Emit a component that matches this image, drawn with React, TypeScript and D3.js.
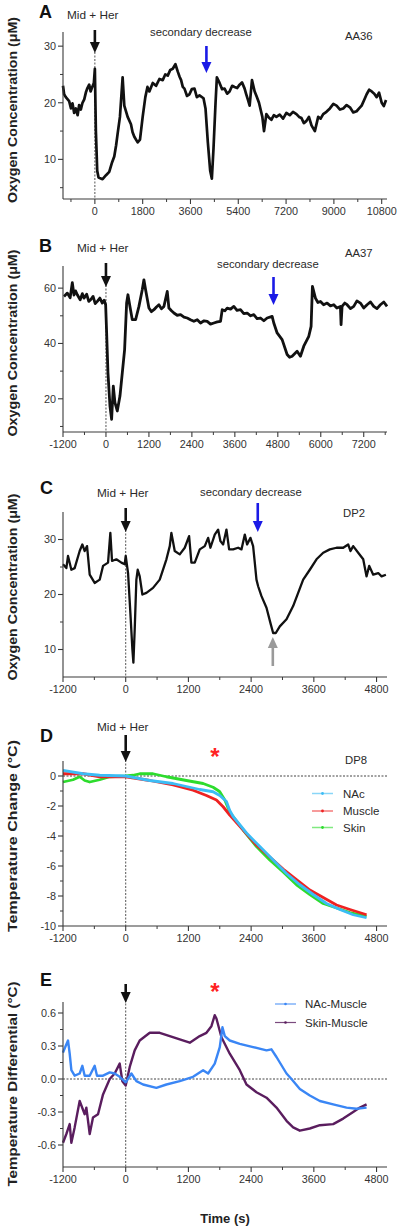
import React from "react";
import * as d3 from "d3";

// ---------- DATA ----------
// Panel A (AA36): [time s, O2 µM]
const aaA: [number, number][] = [
  [-1200, 23.0], [-1158, 21.5], [-1095, 21.0], [-969, 20.3], [-900, 19.0], [-843, 19.9], [-780, 18.2], [-717, 19.0], [-650, 17.8], [-592, 19.6],
  [-530, 18.8], [-466, 20.0], [-400, 20.6], [-340, 21.8], [-280, 22.6], [-214, 23.2], [-160, 22.0], [-113, 22.6], [-38, 23.5], [0, 26.0],
  [38, 15], [88, 8], [138, 6.8], [290, 6.5], [420, 7.2], [541, 7.8], [650, 9.5], [730, 10.5], [800, 12.5], [856, 14.5], [944, 17.5],
  [1045, 24.5], [1108, 19.5], [1234, 17.5], [1359, 16.2], [1420, 14.8], [1485, 14.0], [1611, 13.0], [1699, 13.5], [1800, 17.5],
  [1900, 21.0], [1980, 22.8], [2052, 22.0], [2180, 23.5], [2303, 23.0], [2430, 24.2], [2555, 24.0], [2650, 25.0], [2744, 24.8],
  [2840, 25.8], [2933, 26.0], [3033, 26.8], [3122, 25.5], [3190, 24.6], [3247, 24.0], [3310, 22.8], [3373, 22.5], [3470, 21.2],
  [3562, 21.5], [3650, 22.4], [3751, 22.5], [3840, 21.0], [3940, 21.3], [4091, 20.8], [4166, 19.0], [4254, 13], [4342, 8],
  [4405, 6.6], [4468, 12], [4544, 20], [4594, 24.5], [4695, 23.5], [4790, 22.4], [4884, 22.5], [4980, 21.6], [5072, 22.0],
  [5170, 23.0], [5261, 22.8], [5360, 22.6], [5450, 23.2], [5540, 23.6], [5639, 22.5], [5700, 21.5], [5765, 20.5], [5828, 19.5],
  [5916, 24.0], [6017, 22.0], [6100, 21.0], [6180, 20.0], [6306, 17.5], [6369, 15.0], [6457, 18.0], [6550, 17.4], [6646, 17.0],
  [6740, 17.8], [6835, 17.5], [6960, 17.9], [7087, 17.2], [7210, 18.2], [7338, 17.8], [7460, 18.4], [7590, 18.0], [7690, 17.5],
  [7779, 17.3], [7870, 16.4], [7968, 16.8], [8060, 17.5], [8157, 16.0], [8283, 15.0], [8409, 17.5], [8500, 17.2], [8598, 18.0],
  [8720, 18.4], [8850, 19.0], [8980, 19.8], [9100, 19.5], [9230, 18.8], [9352, 19.0], [9480, 19.6], [9604, 19.2], [9730, 18.3],
  [9856, 18.5], [9950, 19.0], [10045, 19.5], [10140, 20.5], [10234, 21.5], [10330, 22.3], [10423, 22.0], [10520, 21.6],
  [10611, 21.0], [10700, 21.8], [10800, 20.0], [10880, 19.4], [10963, 20.5],
];

// Panel B (AA37)
const aaB: [number, number][] = [
  [-1172, 57.0], [-1079, 58.2], [-1000, 56.5], [-940, 62.0], [-893, 57.5], [-850, 59.0], [-800, 57.6], [-720, 55.8], [-660, 58.0],
  [-614, 56.4], [-540, 57.8], [-480, 55.2], [-428, 55.8], [-360, 57.0], [-300, 54.4], [-242, 55.2], [-170, 56.4], [-102, 54.6],
  [-50, 55.6], [-9, 54.0], [19, 43.8], [56, 29.4], [112, 17.4], [158, 12.6], [205, 24.6], [251, 18.6], [316, 15.6], [391, 21],
  [456, 29.4], [521, 37.8], [577, 54.6], [614, 57.6], [670, 53.4], [735, 48.6], [828, 48.6], [921, 53.4], [1014, 59.4],
  [1060, 63], [1107, 59.4], [1200, 52.8], [1270, 51.5], [1340, 52.2], [1410, 53.2], [1479, 54], [1550, 52.5], [1619, 53.4],
  [1712, 58.8], [1758, 52.8], [1830, 51.8], [1898, 51], [1990, 50.2], [2084, 50.4], [2180, 49.5], [2270, 49.2], [2360, 48.6],
  [2456, 48], [2550, 48.6], [2642, 47.4], [2740, 48.2], [2828, 48], [2920, 47.0], [3014, 47.4], [3110, 47.8], [3200, 48],
  [3247, 52.2], [3320, 51.8], [3386, 52.8], [3480, 52.4], [3572, 53.4], [3660, 52.0], [3758, 52.2], [3850, 50.8], [3944, 51],
  [4040, 50.0], [4130, 50.4], [4220, 49.0], [4316, 49.2], [4410, 48.2], [4502, 49.2], [4642, 49.8], [4688, 47.4], [4781, 43.8],
  [4921, 41.4], [5060, 36], [5130, 35.0], [5200, 35.4], [5339, 37.2], [5432, 35.4], [5525, 39], [5665, 42.6], [5730, 46.2],
  [5767, 60.6], [5851, 56.4], [5920, 54.8], [5991, 55.2], [6080, 54.0], [6177, 54.6], [6270, 53.6], [6363, 54], [6450, 52.8],
  [6549, 53.4], [6567, 46.8], [6595, 53.4], [6670, 54.6], [6735, 54], [6830, 52.6], [6921, 53.4], [7010, 55.4], [7107, 54.6],
  [7200, 52.8], [7293, 54], [7390, 55.0], [7479, 53.4], [7570, 52.6], [7665, 54], [7760, 55.0], [7851, 53.4],
];

// Panel C (DP2)
const aaC: [number, number][] = [
  [-1200, 25.5], [-1136, 24.8], [-1104, 27], [-1040, 24.5], [-977, 24.8], [-881, 27.9], [-830, 29.1], [-785, 27.9], [-740, 28.8],
  [-689, 23.6], [-594, 22.1], [-498, 22.7], [-434, 25.2], [-338, 25.8], [-294, 31.2], [-262, 26.1], [-179, 26.4], [-83, 25.8],
  [-19, 25.5], [0, 27.0], [45, 23.9], [89, 16.7], [128, 10.0], [147, 7.6], [172, 13.6], [204, 22.7], [230, 24.5], [268, 23.3],
  [319, 20], [396, 20.3], [523, 21.2], [651, 22.7], [779, 26.4], [843, 28.8], [874, 31.2], [938, 27.9], [1034, 27.3],
  [1130, 28.5], [1213, 30.6], [1257, 25.8], [1321, 25.8], [1417, 28.2], [1513, 28.8], [1577, 30.3], [1621, 28.5], [1704, 30.9],
  [1768, 31.8], [1813, 29.7], [1864, 29.1], [1928, 31.8], [1979, 28.2], [2055, 28.2], [2151, 28.5], [2215, 28.2], [2279, 30.9],
  [2323, 29.1], [2387, 30.3], [2438, 28.8], [2470, 25.8], [2502, 22.7], [2534, 21.5], [2598, 19.7], [2694, 17.6], [2770, 14.8],
  [2821, 13.0], [2872, 13.0], [2949, 14.2], [3077, 15.5], [3204, 17.9], [3300, 20.3], [3396, 22.7], [3523, 24.5], [3651, 26.4],
  [3779, 27.6], [3906, 28.2], [4034, 28.5], [4162, 28.5], [4257, 29.1], [4302, 27.9], [4353, 28.8], [4449, 27.6], [4545, 26.4],
  [4608, 23.3], [4660, 25.2], [4736, 23.6], [4832, 23.9], [4896, 23.3], [4979, 23.6],
];

// Panel D (DP8) temperature change
const tNAc: [number, number][] = [
  [-1200, 0.38], [-817, 0.15], [-498, 0.05], [0, 0], [460, -0.3], [906, -0.5], [1162, -0.7], [1417, -0.9], [1672, -1.05],
  [1800, -1.3], [1928, -1.7], [1991, -2.3], [2055, -2.7], [2311, -3.8], [2566, -4.7], [2821, -5.6], [3077, -6.5], [3332, -7.25],
  [3587, -7.9], [3843, -8.5], [4098, -8.9], [4353, -9.25], [4609, -9.45],
];
const tMuscle: [number, number][] = [
  [-1200, 0.15], [-817, 0.15], [-498, -0.05], [0, -0.05], [460, -0.3], [906, -0.6], [1289, -0.95], [1545, -1.3], [1736, -1.6],
  [1864, -2.05], [1991, -2.6], [2247, -3.6], [2502, -4.6], [2757, -5.4], [3013, -6.2], [3268, -6.9], [3524, -7.6], [3779, -8.1],
  [4034, -8.6], [4290, -8.9], [4609, -9.25],
];
const tSkin: [number, number][] = [
  [-1200, -0.4], [-1008, -0.25], [-881, -0.05], [-785, -0.3], [-689, -0.4], [-498, -0.25], [-306, -0.05], [0, 0], [140, 0.05],
  [268, 0.15], [523, 0.15], [779, -0.05], [1162, -0.3], [1481, -0.5], [1672, -0.75], [1760, -0.95], [1800, -1.05], [1896, -1.6],
  [1991, -2.4], [2247, -3.6], [2502, -4.7], [2757, -5.6], [3013, -6.4], [3268, -7.25], [3524, -7.9], [3779, -8.5], [4034, -8.8],
  [4290, -9.1], [4609, -9.35],
];

// Panel E temperature differential
const dNAcMuscle: [number, number][] = [
  [-1200, 0.24], [-1149, 0.3], [-1104, 0.35], [-1072, 0.23], [-1040, 0.08], [-977, 0.03], [-881, 0.05], [-830, 0.12], [-785, 0.03],
  [-689, 0.03], [-594, 0.12], [-549, 0.03], [-434, 0.03], [-306, 0.06], [-211, 0.05], [-115, 0.02], [0, -0.03], [109, 0.05],
  [204, -0.02], [332, -0.05], [587, -0.08], [779, -0.05], [1034, -0.02], [1289, 0.02], [1481, 0.08], [1577, 0.05], [1704, 0.14],
  [1800, 0.29], [1851, 0.47], [1896, 0.39], [1991, 0.35], [2183, 0.32], [2438, 0.29], [2694, 0.26], [2789, 0.27], [2885, 0.2],
  [3077, 0.05], [3172, 0.0], [3332, -0.09], [3523, -0.15], [3715, -0.2], [3970, -0.23], [4226, -0.26], [4417, -0.27], [4609, -0.26],
];
const dSkinMuscle: [number, number][] = [
  [-1200, -0.58], [-1136, -0.5], [-1072, -0.41], [-1040, -0.58], [-977, -0.44], [-881, -0.2], [-785, -0.32], [-753, -0.26],
  [-689, -0.5], [-626, -0.35], [-530, -0.32], [-434, -0.14], [-306, 0.0], [-211, 0.05], [-115, 0.14], [-64, -0.02], [0, -0.06],
  [77, 0.11], [172, 0.26], [268, 0.35], [460, 0.42], [651, 0.42], [843, 0.39], [1034, 0.36], [1226, 0.33], [1417, 0.39],
  [1545, 0.42], [1640, 0.48], [1704, 0.58], [1736, 0.55], [1832, 0.38], [1991, 0.23], [2183, 0.08], [2311, -0.05], [2502, -0.12],
  [2694, -0.17], [2885, -0.26], [3077, -0.38], [3204, -0.44], [3332, -0.47], [3523, -0.45], [3715, -0.42], [3970, -0.41],
  [4162, -0.36], [4353, -0.3], [4481, -0.26], [4609, -0.23],
];

// Tick labels / values
const xTicksA = [0, 1800, 3600, 5400, 7200, 9000, 10800];
const xMinorA = [-900, 900, 2700, 4500, 6300, 8100, 9900];
const xTicksB = [-1200, 0, 1200, 2400, 3600, 4800, 6000, 7200];
const xMinorB = [-600, 600, 1800, 3000, 4200, 5400, 6600, 7800];
const xTicksC = [-1200, 0, 1200, 2400, 3600, 4800];
const xMinorC = [-600, 600, 1800, 3000, 4200];
const yTicksA = [10, 20, 30];
const yMinorA = [5, 15, 25];
const yTicksB = [20, 40, 60];
const yMinorB = [10, 30, 50];
const yTicksC = [10, 20, 30];
const yMinorC = [15, 25];
const yTicksD = [0, -2, -4, -6, -8, -10];
const yMinorD = [-1, -3, -5, -7, -9];
const yTicksE = [0.6, 0.3, 0, -0.3, -0.6];
const yMinorE = [0.45, 0.15, -0.15, -0.45];

const FONT = "'Liberation Sans', Arial, Helvetica, sans-serif";
const AX = "#3a3a3a";
const L = 63;
const R = 387;

type Sc = d3.ScaleLinear<number, number>;

function Axes({ x, y, xt, xm, yt, ym, fy }: { x: Sc; y: Sc; xt: number[]; xm: number[]; yt: number[]; ym: number[]; fy: (v: number) => string }) {
  const [y0, y1] = y.range();
  const [x0, x1] = x.range();
  return (
    <g>
      <line x1={x0} x2={x0} y1={y0} y2={y1} stroke={AX} strokeWidth={1.1} />
      <line x1={x0} x2={x1} y1={y0} y2={y0} stroke={AX} strokeWidth={1.1} />
      {yt.map((v) => (
        <g key={"yt" + v}>
          <line x1={x0 - 5} x2={x0} y1={y(v)} y2={y(v)} stroke={AX} strokeWidth={1.1} />
          <text x={x0 - 7} y={y(v) + 3.8} textAnchor="end" fontSize={10.8} fill="#333" fontFamily={FONT}>{fy(v)}</text>
        </g>
      ))}
      {ym.map((v) => (
        <line key={"ym" + v} x1={x0 - 3} x2={x0} y1={y(v)} y2={y(v)} stroke={AX} strokeWidth={1} />
      ))}
      {xt.map((v) => (
        <g key={"xt" + v}>
          <line x1={x(v)} x2={x(v)} y1={y0} y2={y0 + 5} stroke={AX} strokeWidth={1.1} />
          <text x={x(v)} y={y0 + 16} textAnchor="middle" fontSize={10.8} fill="#333" fontFamily={FONT}>{v}</text>
        </g>
      ))}
      {xm.map((v) => (
        <line key={"xm" + v} x1={x(v)} x2={x(v)} y1={y0} y2={y0 + 3} stroke={AX} strokeWidth={1} />
      ))}
    </g>
  );
}

function ArrowDown({ x, y0, tip, color }: { x: number; y0: number; tip: number; color: string }) {
  return (
    <g>
      <line x1={x} x2={x} y1={y0} y2={tip - 9} stroke={color} strokeWidth={2.6} />
      <path d={`M${x - 5},${tip - 11}L${x + 5},${tip - 11}L${x},${tip}Z`} fill={color} />
    </g>
  );
}
function ArrowUp({ x, y0, tip, color }: { x: number; y0: number; tip: number; color: string }) {
  return (
    <g>
      <line x1={x} x2={x} y1={y0} y2={tip + 9} stroke={color} strokeWidth={2.6} />
      <path d={`M${x - 5},${tip + 11}L${x + 5},${tip + 11}L${x},${tip}Z`} fill={color} />
    </g>
  );
}

function YTitle({ cy, text, len }: { cy: number; text: string; len: number }) {
  return (
    <text transform={`translate(17,${cy}) rotate(-90)`} textAnchor="middle" fontSize={12.2} fontWeight="bold" fill="#222"
      fontFamily={FONT} textLength={len} lengthAdjust="spacingAndGlyphs">{text}</text>
  );
}

function Letter({ x, y, t }: { x: number; y: number; t: string }) {
  return <text x={x} y={y} fontSize={18} fontWeight="bold" fill="#111" fontFamily={FONT}>{t}</text>;
}
function Label({ x, y, t, size = 11.5, anchor = "start", fill = "#2a2a2a" }: { x: number; y: number; t: string; size?: number; anchor?: string; fill?: string }) {
  return <text x={x} y={y} fontSize={size} fill={fill} textAnchor={anchor as any} fontFamily={FONT}>{t}</text>;
}

export default function App() {
  const fInt = (v: number) => String(v);
  const fE = (v: number) => v.toFixed(1);

  // scales
  const xA = d3.scaleLinear().domain([-1200, 11000]).range([L, R]);
  const yA = d3.scaleLinear().domain([3, 32.5]).range([199, 32]);
  const xB = d3.scaleLinear().domain([-1200, 7850]).range([L, R]);
  const yB = d3.scaleLinear().domain([8, 68]).range([432, 266]);
  const xC = d3.scaleLinear().domain([-1200, 5000]).range([L, R]);
  const yC = d3.scaleLinear().domain([5, 35]).range([677, 512]);
  const yD = d3.scaleLinear().domain([-10, 1]).range([926, 761]);
  const yE = d3.scaleLinear().domain([-0.8, 0.7]).range([1167, 1002]);

  const mk = (x: Sc, y: Sc) => d3.line<[number, number]>().x((d) => x(d[0])).y((d) => y(d[1]));
  const lA = mk(xA, yA);
  const lB = mk(xB, yB);
  const lC = mk(xC, yC);
  const lD = mk(xC, yD);
  const lE = mk(xC, yE);

  const cNAc = "#3cbcf5";
  const cMus = "#ee2222";
  const cSkin = "#2ddc2d";
  const cNM = "#3a86f5";
  const cSM = "#5a1d5e";

  return (
    <svg width={400} height={1228} style={{ position: "absolute", left: 0, top: 0, background: "#fff" }} xmlns="http://www.w3.org/2000/svg">
      <rect width={400} height={1228} fill="#fff" />

      {/* ---------- Panel A ---------- */}
      <Letter x={39} y={18} t="A" />
      <Label x={67} y={19} t="Mid + Her" size={11.8} />
      <Label x={150} y={36} t="secondary decrease" size={11.3} />
      <Label x={345} y={40} t="AA36" size={11.3} />
      <YTitle cy={110} text="Oxygen Concentration (μM)" len={186} />
      <line x1={xA(0)} x2={xA(0)} y1={52} y2={199} stroke="#555" strokeWidth={1} strokeDasharray="2,1.5" />
      <path d={lA(aaA) || ""} fill="none" stroke="#111" strokeWidth={2.7} strokeLinejoin="round" />
      <Axes x={xA} y={yA} xt={xTicksA} xm={xMinorA} yt={yTicksA} ym={yMinorA} fy={fInt} />
      <ArrowDown x={xA(0)} y0={30} tip={53} color="#111" />
      <ArrowDown x={xA(4200)} y0={46} tip={73} color="#1a1ae6" />

      {/* ---------- Panel B ---------- */}
      <Letter x={39} y={252} t="B" />
      <Label x={77} y={252} t="Mid + Her" size={11.8} />
      <Label x={345} y={257} t="AA37" size={11.3} />
      <Label x={217} y={268} t="secondary decrease" size={11.3} />
      <YTitle cy={343} text="Oxygen Concentration (μM)" len={187} />
      <line x1={xB(0)} x2={xB(0)} y1={285} y2={432} stroke="#555" strokeWidth={1} strokeDasharray="2,1.5" />
      <path d={lB(aaB) || ""} fill="none" stroke="#111" strokeWidth={2.8} strokeLinejoin="round" />
      <Axes x={xB} y={yB} xt={xTicksB} xm={xMinorB} yt={yTicksB} ym={yMinorB} fy={fInt} />
      <ArrowDown x={xB(0)} y0={263} tip={287} color="#111" />
      <ArrowDown x={xB(4680)} y0={277} tip={305} color="#1a1ae6" />

      {/* ---------- Panel C ---------- */}
      <Letter x={40} y={494} t="C" />
      <Label x={97} y={497} t="Mid + Her" size={11.8} />
      <Label x={200} y={496} t="secondary decrease" size={11.3} />
      <Label x={343} y={517} t="DP2" size={11.3} />
      <YTitle cy={587} text="Oxygen Concentration (μM)" len={187} />
      <line x1={xC(0)} x2={xC(0)} y1={530} y2={677} stroke="#555" strokeWidth={1} strokeDasharray="2,1.5" />
      <path d={lC(aaC) || ""} fill="none" stroke="#111" strokeWidth={2.3} strokeLinejoin="round" />
      <Axes x={xC} y={yC} xt={xTicksC} xm={xMinorC} yt={yTicksC} ym={yMinorC} fy={fInt} />
      <ArrowDown x={xC(0)} y0={508} tip={532} color="#111" />
      <ArrowDown x={xC(2527)} y0={503} tip={532} color="#1a1ae6" />
      <ArrowUp x={xC(2815)} y0={666} tip={637} color="#9a9a9a" />

      {/* ---------- Panel D ---------- */}
      <Letter x={40} y={742} t="D" />
      <Label x={97} y={731} t="Mid + Her" size={11.8} />
      <Label x={345} y={764} t="DP8" size={11.3} />
      <text x={215} y={765} textAnchor="middle" fontSize={24} fontWeight="bold" fill="#ff2222" fontFamily={FONT}>*</text>
      <YTitle cy={836} text="Temperature Change (°C)" len={192} />
      <line x1={xC(0)} x2={xC(0)} y1={760} y2={926} stroke="#555" strokeWidth={1} strokeDasharray="2,1.5" />
      <line x1={L} x2={R} y1={yD(0)} y2={yD(0)} stroke="#444" strokeWidth={1} strokeDasharray="2,1.5" />
      <path d={lD(tSkin) || ""} fill="none" stroke={cSkin} strokeWidth={2.8} strokeLinejoin="round" />
      <path d={lD(tMuscle) || ""} fill="none" stroke={cMus} strokeWidth={2.8} strokeLinejoin="round" />
      <path d={lD(tNAc) || ""} fill="none" stroke={cNAc} strokeWidth={2.8} strokeLinejoin="round" />
      <Axes x={xC} y={yD} xt={xTicksC} xm={xMinorC} yt={yTicksD} ym={yMinorD} fy={fInt} />
      <ArrowDown x={xC(0)} y0={735} tip={762} color="#111" />
      {[
        { n: "NAc", c: cNAc, y: 793.5 },
        { n: "Muscle", c: cMus, y: 811 },
        { n: "Skin", c: cSkin, y: 827.5 },
      ].map((d) => (
        <g key={d.n}>
          <line x1={312} x2={333} y1={d.y} y2={d.y} stroke={d.c} strokeWidth={1.5} opacity={0.6} />
          <circle cx={322.5} cy={d.y} r={1.4} fill={d.c} />
          <text x={343} y={d.y + 4} fontSize={11.5} fill="#2a2a2a" fontFamily={FONT}>{d.n}</text>
        </g>
      ))}

      {/* ---------- Panel E ---------- */}
      <Letter x={40} y={986} t="E" />
      <text x={215} y={1000} textAnchor="middle" fontSize={24} fontWeight="bold" fill="#ff2222" fontFamily={FONT}>*</text>
      <YTitle cy={1084} text="Temperature Differential (°C)" len={205} />
      <line x1={xC(0)} x2={xC(0)} y1={1000} y2={1167} stroke="#555" strokeWidth={1} strokeDasharray="2,1.5" />
      <line x1={L} x2={R} y1={yE(0)} y2={yE(0)} stroke="#444" strokeWidth={1} strokeDasharray="2,1.5" />
      <path d={lE(dSkinMuscle) || ""} fill="none" stroke={cSM} strokeWidth={2.4} strokeLinejoin="round" />
      <path d={lE(dNAcMuscle) || ""} fill="none" stroke={cNM} strokeWidth={2.4} strokeLinejoin="round" />
      <Axes x={xC} y={yE} xt={xTicksC} xm={xMinorC} yt={yTicksE} ym={yMinorE} fy={fE} />
      <ArrowDown x={xC(0)} y0={984} tip={1003} color="#111" />
      {[
        { n: "NAc-Muscle", c: cNM, y: 1004 },
        { n: "Skin-Muscle", c: cSM, y: 1022.5 },
      ].map((d) => (
        <g key={d.n}>
          <line x1={275} x2={296} y1={d.y} y2={d.y} stroke={d.c} strokeWidth={1.2} opacity={0.8} />
          <circle cx={285.5} cy={d.y} r={1.3} fill={d.c} />
          <text x={305} y={d.y + 4} fontSize={11.5} fill="#2a2a2a" fontFamily={FONT}>{d.n}</text>
        </g>
      ))}
      <text x={225} y={1223} textAnchor="middle" fontSize={13} fontWeight="bold" fill="#222" fontFamily={FONT}>Time (s)</text>
    </svg>
  );
}
